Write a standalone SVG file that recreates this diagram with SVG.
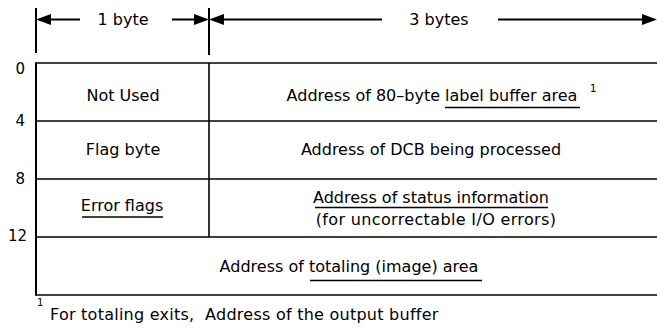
<svg xmlns="http://www.w3.org/2000/svg" width="657" height="328" viewBox="0 0 657 328">
<style>
text{font-family:"DejaVu Sans","Liberation Sans",sans-serif;font-size:16px;fill:#000}
.c{text-anchor:middle}
.r{text-anchor:end;font-size:15px}
.sup{font-size:10px}
.grid line{stroke:#000;stroke-width:1.6}
.ul{stroke:#000;stroke-width:1.4}
.dim line{stroke:#000;stroke-width:2}
.tick{stroke:#000;stroke-width:1.3}
</style>
<defs>
<marker id="ah" markerUnits="userSpaceOnUse" markerWidth="15" markerHeight="12" viewBox="0 0 15 12" refX="8" refY="6" orient="auto">
<path d="M0,0.5 L15,6 L0,11.5 z" fill="#000"/>
</marker>
</defs>
<rect width="657" height="328" fill="#fff"/>
<g id="connectors" class="dim">
<line class="tick" x1="36" y1="8" x2="36" y2="53"/>
<line class="tick" x1="209" y1="8" x2="209" y2="55"/>
<line x1="80" y1="19.5" x2="43" y2="19.5" marker-end="url(#ah)"/>
<line x1="172" y1="19.5" x2="202" y2="19.5" marker-end="url(#ah)"/>
<line x1="382" y1="19.5" x2="216" y2="19.5" marker-end="url(#ah)"/>
<line x1="498" y1="19.5" x2="650" y2="19.5" marker-end="url(#ah)"/>
</g>
<g id="dim-labels">
<text class="c" x="123" y="25">1 byte</text>
<text class="c" x="439" y="25">3 bytes</text>
</g>
<g id="grid" class="grid">
<line x1="36" y1="63" x2="657" y2="63"/>
<line x1="36" y1="121" x2="657" y2="121"/>
<line x1="36" y1="179" x2="657" y2="179"/>
<line x1="36" y1="237" x2="657" y2="237"/>
<line x1="36" y1="295" x2="657" y2="295"/>
<line x1="36" y1="62.2" x2="36" y2="295.8" style="stroke-width:2"/>
<line x1="209" y1="63" x2="209" y2="237"/>
</g>
<g id="offsets">
<text class="r" x="25" y="74">0</text>
<text class="r" x="25" y="126">4</text>
<text class="r" x="25" y="184">8</text>
<text class="r" x="27" y="241">12</text>
</g>
<g id="cell-not-used"><text class="c" x="123" y="101">Not Used</text></g>
<g id="cell-label-buffer">
<text class="c" x="432" y="101">Address of 80–byte label buffer area</text>
<line class="ul" x1="445" y1="107.5" x2="580" y2="107.5"/>
<text class="sup" x="590" y="92">1</text>
</g>
<g id="cell-flag-byte"><text class="c" x="123" y="155">Flag byte</text></g>
<g id="cell-dcb"><text class="c" x="431" y="155">Address of DCB being processed</text></g>
<g id="cell-error-flags">
<text class="c" x="122" y="211">Error flags</text>
<line class="ul" x1="82" y1="217" x2="163" y2="217"/>
</g>
<g id="cell-status">
<text class="c" x="431" y="203">Address of status information</text>
<line class="ul" x1="315" y1="207.5" x2="548" y2="207.5"/>
<text class="c" x="436" y="225" style="letter-spacing:0.35px">(for uncorrectable I/O errors)</text>
</g>
<g id="cell-totaling">
<text class="c" x="349" y="272">Address of totaling (image) area</text>
<line class="ul" x1="310" y1="280.5" x2="482" y2="280.5"/>
</g>
<g id="footnote">
<text class="sup" x="37" y="306">1</text>
<text x="50" y="320" xml:space="preserve" style="letter-spacing:0.25px">For totaling exits,  Address of the output buffer</text>
</g>
</svg>
